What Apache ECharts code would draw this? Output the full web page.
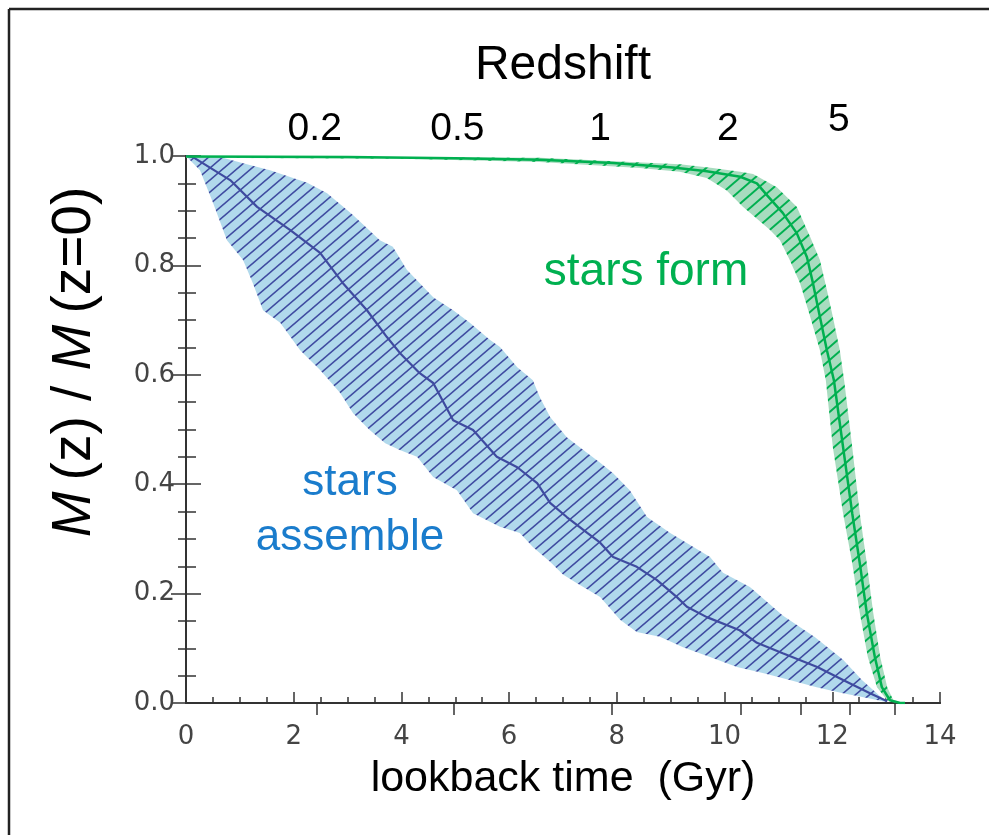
<!DOCTYPE html>
<html>
<head>
<meta charset="utf-8">
<script src="https://cdn.jsdelivr.net/npm/echarts@6/dist/echarts.min.js"></script>
<style>
  html, body { margin: 0; padding: 0; background: #fff; }
  #chart { width: 989px; height: 835px; }
</style>
</head>
<body>
<div id="chart"></div>
<script>
// Stellar mass growth M(z)/M(z=0) against lookback time (Gyr).

// "stars assemble": range (upper / lower edge) and median
const assembleUpper = [
  [0.0, 1.0], [0.63, 0.998], [1.13, 0.985], [1.56, 0.974], [2.25, 0.951], [2.62, 0.932],
  [3.1, 0.892], [3.6, 0.846], [3.84, 0.834], [4.1, 0.792], [4.59, 0.742], [4.96, 0.718],
  [5.27, 0.695], [5.64, 0.664], [5.83, 0.651], [6.15, 0.614], [6.44, 0.59], [6.57, 0.559],
  [6.76, 0.523], [7.07, 0.486], [7.45, 0.457], [7.69, 0.439], [7.93, 0.42], [8.24, 0.389],
  [8.56, 0.34], [8.99, 0.311], [9.73, 0.267], [9.97, 0.238], [10.47, 0.212], [11.08, 0.16],
  [11.68, 0.12], [12.2, 0.079], [12.55, 0.042], [12.8, 0.02], [13.0, 0.002]
];
const assembleLower = [
  [0.0, 1.0], [0.26, 0.974], [0.5, 0.915], [0.76, 0.846], [1.06, 0.81], [1.24, 0.768],
  [1.43, 0.718], [1.75, 0.695], [2.12, 0.645], [2.49, 0.609], [2.86, 0.567], [3.1, 0.53],
  [3.4, 0.5], [3.7, 0.475], [3.97, 0.4625], [4.29, 0.45], [4.59, 0.413], [5.03, 0.389],
  [5.33, 0.347], [5.83, 0.322], [6.2, 0.311], [6.44, 0.285], [6.76, 0.258], [7.0, 0.235],
  [7.26, 0.219], [7.69, 0.194], [8.06, 0.152], [8.37, 0.13], [8.8, 0.121], [9.23, 0.102],
  [9.73, 0.084], [10.23, 0.066], [10.71, 0.055], [11.21, 0.042], [11.71, 0.029], [12.2, 0.018],
  [12.7, 0.008], [13.0, 0.002]
];
const assembleMedian = [
  [0.0, 1.0], [0.13, 0.998], [0.82, 0.956], [1.32, 0.907], [1.93, 0.865], [2.49, 0.823],
  [2.91, 0.768], [3.36, 0.718], [3.73, 0.669], [3.97, 0.64], [4.34, 0.603], [4.59, 0.585],
  [4.96, 0.517], [5.33, 0.499], [5.77, 0.45], [6.15, 0.431], [6.52, 0.402], [6.76, 0.366],
  [7.07, 0.34], [7.45, 0.311], [7.69, 0.293], [7.93, 0.267], [8.37, 0.249], [8.74, 0.225],
  [9.11, 0.194], [9.3, 0.176], [9.67, 0.157], [10.28, 0.133], [10.6, 0.11], [11.08, 0.091],
  [11.72, 0.066], [12.2, 0.042], [12.7, 0.018], [13.02, 0.003]
];

// "stars form": range (upper-right / lower-left edge) and median
const formUpper = [
  [0.0, 1.0], [6.57, 0.997], [9.17, 0.985], [9.78, 0.978], [10.29, 0.971], [10.53, 0.967],
  [10.97, 0.943], [11.34, 0.907], [11.59, 0.852], [11.77, 0.81], [11.9, 0.755], [12.01, 0.706],
  [12.14, 0.645], [12.22, 0.59], [12.37, 0.468], [12.51, 0.347], [12.64, 0.256], [12.76, 0.165],
  [12.89, 0.084], [13.02, 0.029], [13.13, 0.006], [13.3, 0.0]
];
const formLower = [
  [0.0, 0.997], [4.0, 0.995], [6.57, 0.989], [8.43, 0.978], [9.17, 0.971], [9.67, 0.96],
  [10.04, 0.937], [10.34, 0.907], [10.84, 0.865], [11.03, 0.846], [11.21, 0.81], [11.4, 0.768],
  [11.59, 0.706], [11.77, 0.645], [11.88, 0.59], [12.01, 0.468], [12.2, 0.347], [12.37, 0.256],
  [12.51, 0.165], [12.66, 0.084], [12.83, 0.029], [13.02, 0.005], [13.2, 0.0]
];
const formMedian = [
  [0.0, 0.999], [3.0, 0.998], [5.0, 0.996], [6.57, 0.993], [7.93, 0.987], [9.04, 0.979],
  [9.67, 0.972], [10.29, 0.962], [10.6, 0.95], [10.79, 0.928], [11.08, 0.896], [11.34, 0.859],
  [11.53, 0.815], [11.64, 0.768], [11.77, 0.706], [11.9, 0.645], [12.03, 0.59], [12.2, 0.468],
  [12.37, 0.347], [12.51, 0.256], [12.64, 0.165], [12.79, 0.084], [12.92, 0.029], [13.07, 0.005],
  [13.26, 0.0], [13.35, 0.0]
];

// Redshift scale along the top (positions in lookback time, Gyr)
const redshiftTickPos = [2.43, 4.98, 7.9, 10.3, 11.42, 12.33, 13.16];
const redshiftLabelPos = [2.39, 5.04, 7.69, 10.06, 12.12];
const redshiftLabels = ['0.2', '0.5', '1', '2', '5'];

// Tiled fill: flat colour plus diagonal hatch lines
function hatchPattern(bg, ink, w, h, lw) {
  const c = document.createElement('canvas');
  c.width = w; c.height = h;
  const g = c.getContext('2d');
  g.fillStyle = bg;
  g.fillRect(0, 0, w, h);
  g.strokeStyle = ink;
  g.lineWidth = lw;
  for (let n = 0; n <= 2; n++) {
    g.beginPath();
    g.moveTo(-w, h + n * h);
    g.lineTo(2 * w, -2 * h + n * h);
    g.stroke();
  }
  return { image: c, repeat: 'repeat' };
}

const assembleFill = hatchPattern('#b1d9ec', '#3f4ba0', 14, 12, 1.6);
const formFill = hatchPattern('#a8dcbf', '#00b050', 15, 13, 2);

function bandSeries(upper, lower, fill) {
  return {
    type: 'custom',
    xAxisIndex: 0,
    yAxisIndex: 0,
    silent: true,
    data: [[0, 0]],
    renderItem: function (params, api) {
      const pts = upper.map(p => api.coord(p))
        .concat(lower.slice().reverse().map(p => api.coord(p)));
      return { type: 'polygon', shape: { points: pts }, style: { fill: fill, stroke: null } };
    }
  };
}

const axisColor = '#333';
const tickFont = { fontSize: 26, fontFamily: 'DejaVu Sans', color: '#444' };

const option = {
  animation: false,
  backgroundColor: '#fff',
  grid: { left: 186, right: 49, top: 156, bottom: 132 },
  xAxis: [
    {
      type: 'value', position: 'bottom', min: 0, max: 14, interval: 2,
      axisLine: { show: true, lineStyle: { color: axisColor, width: 2 } },
      axisTick: { show: true, inside: true, length: 11, lineStyle: { color: axisColor, width: 1.5 } },
      minorTick: { show: true, splitNumber: 4, length: 6, lineStyle: { color: axisColor, width: 1.5 } },
      axisLabel: Object.assign({ margin: 21 }, tickFont),
      splitLine: { show: false },
      name: 'lookback time  (Gyr)', nameLocation: 'middle', nameGap: 55,
      nameTextStyle: { fontSize: 43, fontFamily: 'Liberation Sans', color: '#000' }
    },
    {
      type: 'value', position: 'top', min: 0, max: 14,
      axisLine: { show: true, lineStyle: { color: axisColor, width: 2 } },
      axisTick: { show: true, inside: true, length: 12, customValues: redshiftTickPos,
        lineStyle: { color: axisColor, width: 1.5 } },
      axisLabel: {
        customValues: redshiftLabelPos,
        margin: 7, fontSize: 39, fontFamily: 'Liberation Sans', color: '#000',
        formatter: function (v) {
          let best = 0;
          redshiftLabelPos.forEach((p, i) => {
            if (Math.abs(p - v) < Math.abs(redshiftLabelPos[best] - v)) best = i;
          });
          const t = redshiftLabels[best];
          return t === '5' ? '{up|' + t + '}' : t;
        },
        rich: { up: { fontSize: 39, fontFamily: 'Liberation Sans', color: '#000', padding: [0, 0, 9, 0] } }
      },
      splitLine: { show: false },
      name: 'Redshift', nameLocation: 'middle', nameGap: 66,
      nameTextStyle: { fontSize: 48, fontFamily: 'Liberation Sans', color: '#000' }
    }
  ],
  yAxis: [
    {
      type: 'value', position: 'left', min: 0, max: 1, interval: 0.2,
      axisLine: { show: true, lineStyle: { color: axisColor, width: 2 } },
      axisTick: { show: true, inside: true, length: 15, lineStyle: { color: axisColor, width: 1.5 } },
      minorTick: { show: true, splitNumber: 4, length: 10, lineStyle: { color: axisColor, width: 1.5 } },
      axisLabel: Object.assign({ margin: 11, formatter: v => v.toFixed(1) }, tickFont),
      splitLine: { show: false }
    },
    {
      type: 'value', position: 'right', min: 0, max: 1, interval: 0.2,
      axisLine: { show: true, lineStyle: { color: axisColor, width: 2 } },
      axisTick: { show: true, inside: true, length: 15, lineStyle: { color: axisColor, width: 1.5 } },
      minorTick: { show: true, splitNumber: 4, length: 8, lineStyle: { color: axisColor, width: 1.5 } },
      axisLabel: { show: false },
      splitLine: { show: false }
    }
  ],
  series: [
    bandSeries(assembleUpper, assembleLower, assembleFill),
    {
      type: 'line', xAxisIndex: 0, yAxisIndex: 0, data: assembleMedian,
      showSymbol: false, silent: true,
      lineStyle: { color: '#3f4ba0', width: 2.2 }
    },
    bandSeries(formUpper, formLower, formFill),
    {
      type: 'line', xAxisIndex: 0, yAxisIndex: 0, data: formMedian,
      showSymbol: false, silent: true,
      lineStyle: { color: '#00b050', width: 2.5 }
    }
  ],
  graphic: [
    { type: 'line', shape: { x1: 9, y1: 9, x2: 989, y2: 9 }, style: { stroke: '#222', lineWidth: 2.5 }, silent: true },
    { type: 'line', shape: { x1: 9, y1: 9, x2: 9, y2: 835 }, style: { stroke: '#222', lineWidth: 2.5 }, silent: true },
    {
      type: 'text', x: 75, y: 362, rotation: Math.PI / 2, silent: true,
      style: {
        text: '{i|M}\u2009(z) / {i|M}\u2009(z=0)',
        fontSize: 55, fontFamily: 'Liberation Sans', fill: '#000',
        align: 'center', verticalAlign: 'middle',
        rich: { i: { fontStyle: 'italic', fontSize: 55, fontFamily: 'Liberation Sans', fill: '#000' } }
      }
    },
    {
      type: 'text', x: 646, y: 272, silent: true,
      style: { text: 'stars form', fontSize: 46, fontFamily: 'Liberation Sans', fill: '#00b050',
        align: 'center', verticalAlign: 'middle' }
    },
    {
      type: 'text', x: 350, y: 510, silent: true,
      style: { text: 'stars\nassemble', fontSize: 44, lineHeight: 55, fontFamily: 'Liberation Sans',
        fill: '#1a7ccc', align: 'center', verticalAlign: 'middle' }
    }
  ]
};

const chart = echarts.init(document.getElementById('chart'), null, { renderer: 'canvas' });
chart.setOption(option);
</script>
</body>
</html>
